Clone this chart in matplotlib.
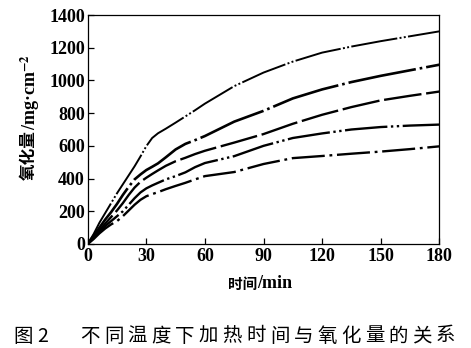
import matplotlib
matplotlib.use("Agg")
import matplotlib.pyplot as plt

plt.rcParams["mathtext.fontset"] = "stix"

# ---- data ----
time_min = [0, 3, 6, 9, 12, 15, 18, 21, 24, 27, 30, 33, 36, 40, 45, 50, 55, 60,
            75, 90, 105, 120, 135, 150, 165, 180]
curve1 = [0, 60, 130, 190, 250, 310, 365, 420, 475, 535, 598, 648, 677, 705, 742, 780, 818, 858,
          965, 1048, 1115, 1170, 1207, 1240, 1270, 1300]
curve2 = [0, 50, 100, 150, 195, 245, 300, 350, 395, 425, 452, 472, 493, 530, 578, 612, 635, 660,
          748, 814, 890, 945, 990, 1028, 1062, 1096]
curve3 = [0, 40, 85, 125, 165, 205, 250, 300, 345, 380, 405, 428, 450, 478, 506, 527, 550, 570,
          620, 672, 735, 790, 837, 878, 906, 932]
curve4 = [0, 35, 75, 110, 140, 170, 200, 240, 280, 315, 340, 358, 374, 395, 415, 438, 470, 495,
          537, 600, 648, 676, 700, 715, 724, 730]
curve5 = [0, 30, 65, 95, 120, 140, 170, 205, 240, 270, 292, 305, 317, 335, 355, 374, 395, 415,
          440, 489, 525, 538, 552, 565, 580, 597]
series = [curve1, curve2, curve3, curve4, curve5]
xticks = [0, 30, 60, 90, 120, 150, 180]
yticks = [0, 200, 400, 600, 800, 1000, 1200, 1400]
caption_head = ["图", "2"]
caption_body = "不同温度下加热时间与氧化量的关系"

styles = [
    dict(ls=(0, (24, 1.2, 1, 1.2, 1, 1.2)), lw=1.4),
    dict(ls=(0, (26, 1.5, 1, 1.5)), lw=1.9),
    dict(ls=(0, (16, 2)), lw=1.7),
    dict(ls=(0, (18, 1.5, 1, 1.5, 1, 1.5)), lw=1.7),
    dict(ls=(0, (14, 2, 1.2, 2)), lw=1.7),
]

W, H = 471, 348
fig = plt.figure(figsize=(W / 100, H / 100), dpi=100)
ax = fig.add_axes([87.7 / W, 1 - 244 / H, (439.3 - 87.7) / W, (244 - 15) / H])

for s, st in zip(series, styles):
    ax.plot(time_min, s, color="black", solid_capstyle="butt", dash_capstyle="butt", **st)

ax.set_xlim(0, 180)
ax.set_ylim(0, 1400)
ax.set_xticks(xticks)
ax.set_yticks(yticks)
serif = dict(family="Liberation Serif", weight="bold", size=13)
ax.set_xticklabels([str(v) for v in xticks], fontdict=serif)
ax.set_yticklabels([str(v) for v in yticks], fontdict=serif)
ax.tick_params(direction="in", length=4, width=0.9, top=False, right=False, pad=2)
ax.tick_params(axis="x", pad=3)
for sp in ax.spines.values():
    sp.set_linewidth(0.9)

# x label: Chinese + serif unit
fig.text(257 / W, 1 - 284 / H, "时间", family="Noto Sans CJK SC", weight="bold", size=10.5,
         ha="right", va="center")
fig.text(257 / W, 1 - 284 / H, "/min", family="Liberation Serif", weight="bold", size=13,
         ha="left", va="center")

# y label
fig.text(29 / W, 1 - 180 / H, "氧化量", family="Noto Sans CJK SC", weight="bold", size=12,
         rotation=90, ha="center", va="bottom")
fig.text(30 / W, 1 - 130 / H, r"/mg·cm$^{\mathbf{-2}}$", family="Liberation Serif", weight="bold",
         size=13, rotation=90, ha="center", va="bottom")

# caption
fig.text(23 / W, 1 - 336 / H, caption_head[0], family="Noto Sans CJK SC", size=14, ha="center", va="center")
fig.text(43 / W, 1 - 336 / H, caption_head[1], family="Noto Sans CJK SC", size=14, ha="center", va="center")
for i, ch in enumerate(caption_body):
    fig.text((90 + i * 23.7) / W, 1 - 336 / H, ch, family="Noto Sans CJK SC", size=14,
             ha="center", va="center")

fig.savefig("out.png", dpi=100)
